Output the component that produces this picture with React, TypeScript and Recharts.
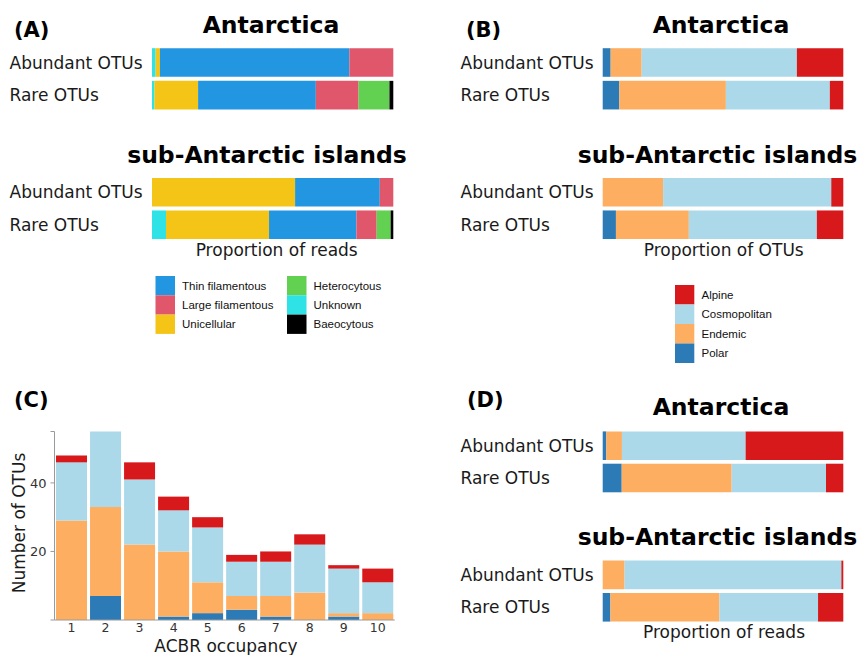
import { BarChart, Bar, XAxis, YAxis } from 'recharts'

const groups = ['Abundant OTUs', 'Rare OTUs']

// (A) morphotypes, proportion of reads (%)
const morphKeys = ['unknown', 'unicellular', 'thin', 'large', 'hetero', 'baeo']
const morphNames = ['Unknown', 'Unicellular', 'Thin filamentous', 'Large filamentous', 'Heterocytous', 'Baeocytous']
const morphColors = ['#2EE2E6', '#F4C516', '#2396E2', '#E0566B', '#62D152', '#000000']
const morphAntarctica = [
  [1.5, 1.8, 78.5, 18.2, 0, 0],
  [1.0, 18.1, 48.8, 17.7, 12.8, 1.6],
]
const morphSubAntarctic = [
  [0, 59.3, 35.1, 5.6, 0, 0],
  [5.8, 42.7, 36.2, 8.4, 5.8, 1.1],
]
const morphLegendCols = [
  ['thin', 'large', 'unicellular'],
  ['hetero', 'unknown', 'baeo'],
]

// distribution classes
const distKeys = ['polar', 'endemic', 'cosmo', 'alpine']
const distNames = ['Polar', 'Endemic', 'Cosmopolitan', 'Alpine']
const distColors = ['#2C7BB6', '#FDAE61', '#ABD9E9', '#D7191C']

// (B) proportion of OTUs (%)
const otusAntarctica = [
  [3.3, 12.9, 64.5, 19.3],
  [6.9, 44.3, 43.2, 5.6],
]
const otusSubAntarctic = [
  [0, 25.1, 69.9, 5.0],
  [5.5, 30.3, 53.2, 11.0],
]

// (D) proportion of reads (%)
const readsAntarctica = [
  [1.5, 6.5, 51.4, 40.6],
  [7.9, 45.7, 39.2, 7.2],
]
const readsSubAntarctic = [
  [0, 9.1, 90.1, 0.8],
  [3.2, 45.3, 41.0, 10.5],
]

// (C) number of OTUs per ACBR occupancy
const occupancy = ['1', '2', '3', '4', '5', '6', '7', '8', '9', '10']
const polarCounts = [0, 7, 0, 1, 2, 3, 1, 0, 1, 0]
const endemicCounts = [29, 26, 22, 19, 9, 4, 6, 8, 1, 2]
const cosmoCounts = [17, 22, 19, 12, 16, 10, 10, 14, 13, 9]
const alpineCounts = [2, 0, 5, 4, 3, 2, 3, 3, 1, 4]

const FONT = 'DejaVu Sans'

type HBarProps = {
  rows: number[][]
  keys: string[]
  colors: string[]
  left: number
  top: number
  width: number
  height: number
  plotLeft: number
  plotRight: number
  plotTop: number
  plotBottom: number
  labelX: number
}

function HBar({ rows, keys, colors, left, top, width, height, plotLeft, plotRight, plotTop, plotBottom, labelX }: HBarProps) {
  const data = groups.map((g, i) => {
    const o: Record<string, string | number> = { group: g }
    keys.forEach((k, j) => (o[k] = rows[i][j]))
    return o
  })
  return (
    <div style={{ position: 'absolute', left, top }}>
      <BarChart
        width={width}
        height={height}
        data={data}
        layout="vertical"
        stackOffset="expand"
        barSize={28.6}
        margin={{ top: plotTop - top, bottom: top + height - plotBottom, left: 0, right: left + width - plotRight }}
      >
        <XAxis type="number" hide domain={[0, 1]} />
        <YAxis
          type="category"
          dataKey="group"
          width={plotLeft - left}
          axisLine={false}
          tickLine={false}
          tick={(p: any) => (
            <text x={labelX - left} y={p.y} dy="0.36em" textAnchor="start" fontSize={17} fontFamily={FONT} fill="#1a1a1a">
              {p.payload.value}
            </text>
          )}
        />
        {keys.map((k, j) => (
          <Bar key={k} dataKey={k} stackId="s" fill={colors[j]} isAnimationActive={false} />
        ))}
      </BarChart>
    </div>
  )
}

const cData = occupancy.map((occ, i) => ({
  occ,
  polar: polarCounts[i],
  endemic: endemicCounts[i],
  cosmo: cosmoCounts[i],
  alpine: alpineCounts[i],
}))

function Title({ x, y, children }: { x: number; y: number; children: string }) {
  return (
    <text x={x} y={y} textAnchor="middle" fontSize={23.5} fontWeight="bold" fontFamily={FONT} fill="#000">
      {children}
    </text>
  )
}

function PanelTag({ x, y, children }: { x: number; y: number; children: string }) {
  return (
    <text x={x} y={y} fontSize={21} fontWeight="bold" fontFamily={FONT} fill="#000">
      {children}
    </text>
  )
}

function AxisTitle({ x, y, children }: { x: number; y: number; children: string }) {
  return (
    <text x={x} y={y} textAnchor="middle" fontSize={17} fontFamily={FONT} fill="#1a1a1a">
      {children}
    </text>
  )
}

export default function App() {
  const sq = 19.3
  return (
    <div style={{ position: 'absolute', left: 0, top: 0, width: 859, height: 655, background: '#fff' }}>
      {/* (A) */}
      <HBar rows={morphAntarctica} keys={morphKeys} colors={morphColors} left={0} top={0} width={430} height={130}
        plotLeft={152} plotRight={393.3} plotTop={46.2} plotBottom={111.5} labelX={9.5} />
      <HBar rows={morphSubAntarctic} keys={morphKeys} colors={morphColors} left={0} top={130} width={430} height={140}
        plotLeft={152} plotRight={393.3} plotTop={176} plotBottom={240.9} labelX={9.5} />

      {/* (B) */}
      <HBar rows={otusAntarctica} keys={distKeys} colors={distColors} left={430} top={0} width={429} height={130}
        plotLeft={602.7} plotRight={843.3} plotTop={46.2} plotBottom={111.5} labelX={460.5} />
      <HBar rows={otusSubAntarctic} keys={distKeys} colors={distColors} left={430} top={130} width={429} height={140}
        plotLeft={602.7} plotRight={843.3} plotTop={176} plotBottom={240.9} labelX={460.5} />

      {/* (D) */}
      <HBar rows={readsAntarctica} keys={distKeys} colors={distColors} left={430} top={380} width={429} height={130}
        plotLeft={602.7} plotRight={843.3} plotTop={429.4} plotBottom={494} labelX={460.5} />
      <HBar rows={readsSubAntarctic} keys={distKeys} colors={distColors} left={430} top={510} width={429} height={145}
        plotLeft={602.7} plotRight={843.3} plotTop={558.6} plotBottom={623.4} labelX={460.5} />

      {/* (C) */}
      <div style={{ position: 'absolute', left: 0, top: 370 }}>
        <BarChart width={430} height={285} data={cData} margin={{ top: 61.5, right: 35.2, bottom: 0, left: 0 }} barCategoryGap={1.5}>
          <XAxis
            dataKey="occ"
            height={35}
            interval={0}
            tickLine={false}
            tickSize={2}
            tickMargin={1}
            axisLine={{ stroke: '#9a9a9a' }}
            tick={{ fontSize: 12.5, fill: '#333', fontFamily: FONT }}
          />
          <YAxis
            width={54.5}
            domain={[0, 55]}
            ticks={[0, 20, 40, 55]}
            tickFormatter={(v: number) => (v === 20 || v === 40 ? String(v) : '')}
            tickSize={4}
            tickMargin={4}
            axisLine={{ stroke: '#9a9a9a' }}
            tickLine={{ stroke: '#9a9a9a' }}
            tick={{ fontSize: 13, fill: '#333', fontFamily: FONT }}
          />
          {distKeys.map((k, j) => (
            <Bar key={k} dataKey={k} stackId="c" fill={distColors[j]} isAnimationActive={false} />
          ))}
        </BarChart>
      </div>

      {/* text and legends */}
      <svg width={859} height={655} style={{ position: 'absolute', left: 0, top: 0, pointerEvents: 'none' }}>
        <PanelTag x={14} y={36.5}>(A)</PanelTag>
        <PanelTag x={466} y={36.5}>(B)</PanelTag>
        <PanelTag x={14} y={406.5}>(C)</PanelTag>
        <PanelTag x={467} y={406.5}>(D)</PanelTag>

        <Title x={271} y={33.3}>Antarctica</Title>
        <Title x={267} y={163.3}>sub-Antarctic islands</Title>
        <Title x={721} y={33.3}>Antarctica</Title>
        <Title x={717.5} y={163.3}>sub-Antarctic islands</Title>
        <Title x={721} y={415}>Antarctica</Title>
        <Title x={717.5} y={545}>sub-Antarctic islands</Title>

        <AxisTitle x={276.7} y={255.5}>Proportion of reads</AxisTitle>
        <AxisTitle x={723.7} y={255.5}>Proportion of OTUs</AxisTitle>
        <AxisTitle x={724} y={637.5}>Proportion of reads</AxisTitle>
        <AxisTitle x={226} y={651.5}>ACBR occupancy</AxisTitle>
        <g transform="translate(25,523) rotate(-90)">
          <AxisTitle x={0} y={0}>Number of OTUs</AxisTitle>
        </g>

        {morphLegendCols.map((col, c) =>
          col.map((k, r) => {
            const idx = morphKeys.indexOf(k)
            const x = c === 0 ? 155.5 : 287
            const y = 276 + r * sq
            return (
              <g key={k}>
                <rect x={x} y={y} width={19.5} height={sq} fill={morphColors[idx]} />
                <text x={x + 26.5} y={y + sq / 2 + 4} fontSize={11.5} fontFamily="Liberation Sans" fill="#111">
                  {morphNames[idx]}
                </text>
              </g>
            )
          })
        )}

        {[...distKeys].reverse().map((k, r) => {
          const idx = distKeys.indexOf(k)
          const y = 285 + r * 19.5
          return (
            <g key={k}>
              <rect x={675} y={y} width={19.3} height={19.5} fill={distColors[idx]} />
              <text x={701.5} y={y + 19.5 / 2 + 4} fontSize={11.5} fontFamily="Liberation Sans" fill="#111">
                {distNames[idx]}
              </text>
            </g>
          )
        })}
      </svg>
    </div>
  )
}
